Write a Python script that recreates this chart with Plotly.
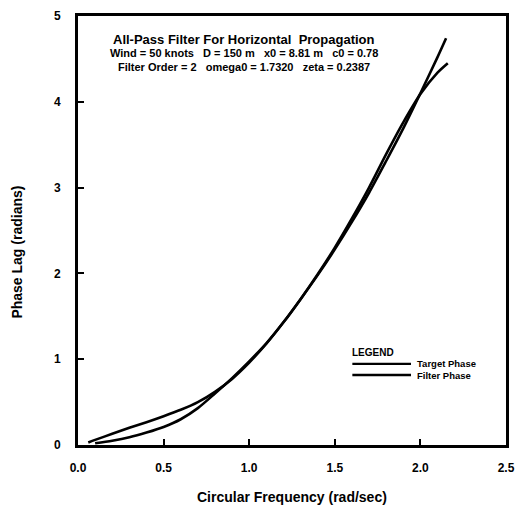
import plotly.graph_objects as go

# Circular frequency (rad/sec) and phase lag (radians)
freq_target = [0.06, 0.1, 0.2, 0.3, 0.4, 0.5, 0.6, 0.7, 0.8, 0.9, 1.0, 1.1, 1.2,
               1.3, 1.4, 1.5, 1.6, 1.7, 1.8, 1.9, 2.0, 2.1, 2.15]
phase_target = [0.03, 0.06, 0.13, 0.20, 0.265, 0.335, 0.41, 0.50, 0.62, 0.77, 0.96,
                1.18, 1.43, 1.70, 1.98, 2.28, 2.60, 2.94, 3.31, 3.69, 4.10, 4.52, 4.74]

freq_filter = [0.1, 0.2, 0.3, 0.4, 0.5, 0.6, 0.7, 0.8, 0.9, 1.0, 1.1, 1.2, 1.3,
               1.4, 1.5, 1.6, 1.7, 1.8, 1.9, 2.0, 2.1, 2.16]
phase_filter = [0.02, 0.05, 0.09, 0.145, 0.21, 0.30, 0.43, 0.60, 0.78, 0.975, 1.185,
                1.43, 1.70, 1.99, 2.30, 2.64, 3.00, 3.39, 3.76, 4.09, 4.34, 4.45]

x_ticks = [0.0, 0.5, 1.0, 1.5, 2.0, 2.5]
x_tick_text = ["0.0", "0.5", "1.0", "1.5", "2.0", "2.5"]
y_ticks = [0, 1, 2, 3, 4, 5]
y_tick_text = ["0", "1", "2", "3", "4", "5"]

title_lines = [
    "All-Pass Filter For Horizontal  Propagation",
    "Wind = 50 knots   D = 150 m   x0 = 8.81 m   c0 = 0.78",
    "Filter Order = 2   omega0 = 1.7320   zeta = 0.2387",
]
legend_names = ["Target Phase", "Filter Phase"]

FONT = "Liberation Sans, Arial, sans-serif"
INK = "black"

fig = go.Figure()
fig.add_trace(go.Scatter(x=freq_target, y=phase_target, mode="lines",
                         line=dict(color=INK, width=2.6, shape="spline", smoothing=0.8),
                         name=legend_names[0], showlegend=False))
fig.add_trace(go.Scatter(x=freq_filter, y=phase_filter, mode="lines",
                         line=dict(color=INK, width=2.6, shape="spline", smoothing=0.8),
                         name=legend_names[1], showlegend=False))

axis_common = dict(showgrid=False, zeroline=False, showline=True, mirror=True,
                   linecolor=INK, linewidth=2.8, ticks="inside", ticklen=6,
                   tickwidth=2, tickcolor=INK,
                   tickfont=dict(family=FONT, size=12, color=INK, weight="bold"))

fig.update_xaxes(range=[0, 2.5], tickvals=x_ticks, ticktext=x_tick_text,
                 ticklabelstandoff=10, **axis_common)
fig.update_yaxes(range=[0, 5], tickvals=y_ticks, ticktext=y_tick_text,
                 ticklabelstandoff=12, **axis_common)

annotations = []
# plot title block inside the frame
for text, ypos, size in zip(title_lines, [0.946, 0.913, 0.881], [13, 11, 11]):
    annotations.append(dict(text=text, x=0.389, y=ypos, xref="paper", yref="paper",
                            xanchor="center", yanchor="middle", showarrow=False,
                            font=dict(family=FONT, size=size, color=INK, weight="bold")))

# axis titles
annotations.append(dict(text="Circular Frequency (rad/sec)", x=0.501, y=-0.121,
                        xref="paper", yref="paper", xanchor="center", yanchor="middle",
                        showarrow=False,
                        font=dict(family=FONT, size=14, color=INK, weight="bold")))
annotations.append(dict(text="Phase Lag (radians)", x=-0.142, y=0.449,
                        xref="paper", yref="paper", xanchor="center", yanchor="middle",
                        textangle=-90, showarrow=False,
                        font=dict(family=FONT, size=14, color=INK, weight="bold")))

# legend block
annotations.append(dict(text="LEGEND", x=0.636, y=0.216, xref="paper", yref="paper",
                        xanchor="left", yanchor="middle", showarrow=False,
                        font=dict(family=FONT, size=10, color=INK, weight="bold")))
shapes = []
for name, ypos in zip(legend_names, [0.189, 0.163]):
    shapes.append(dict(type="line", xref="paper", yref="paper", x0=0.641, x1=0.778,
                       y0=ypos, y1=ypos, line=dict(color=INK, width=2.4)))
    annotations.append(dict(text=name, x=0.787, y=ypos, xref="paper", yref="paper",
                            xanchor="left", yanchor="middle", showarrow=False,
                            font=dict(family=FONT, size=9.5, color=INK, weight="bold")))

fig.update_layout(width=524, height=515, margin=dict(l=78, r=9, t=15, b=70),
                  paper_bgcolor="white", plot_bgcolor="white",
                  annotations=annotations, shapes=shapes, showlegend=False)

fig.write_html("out.html")
